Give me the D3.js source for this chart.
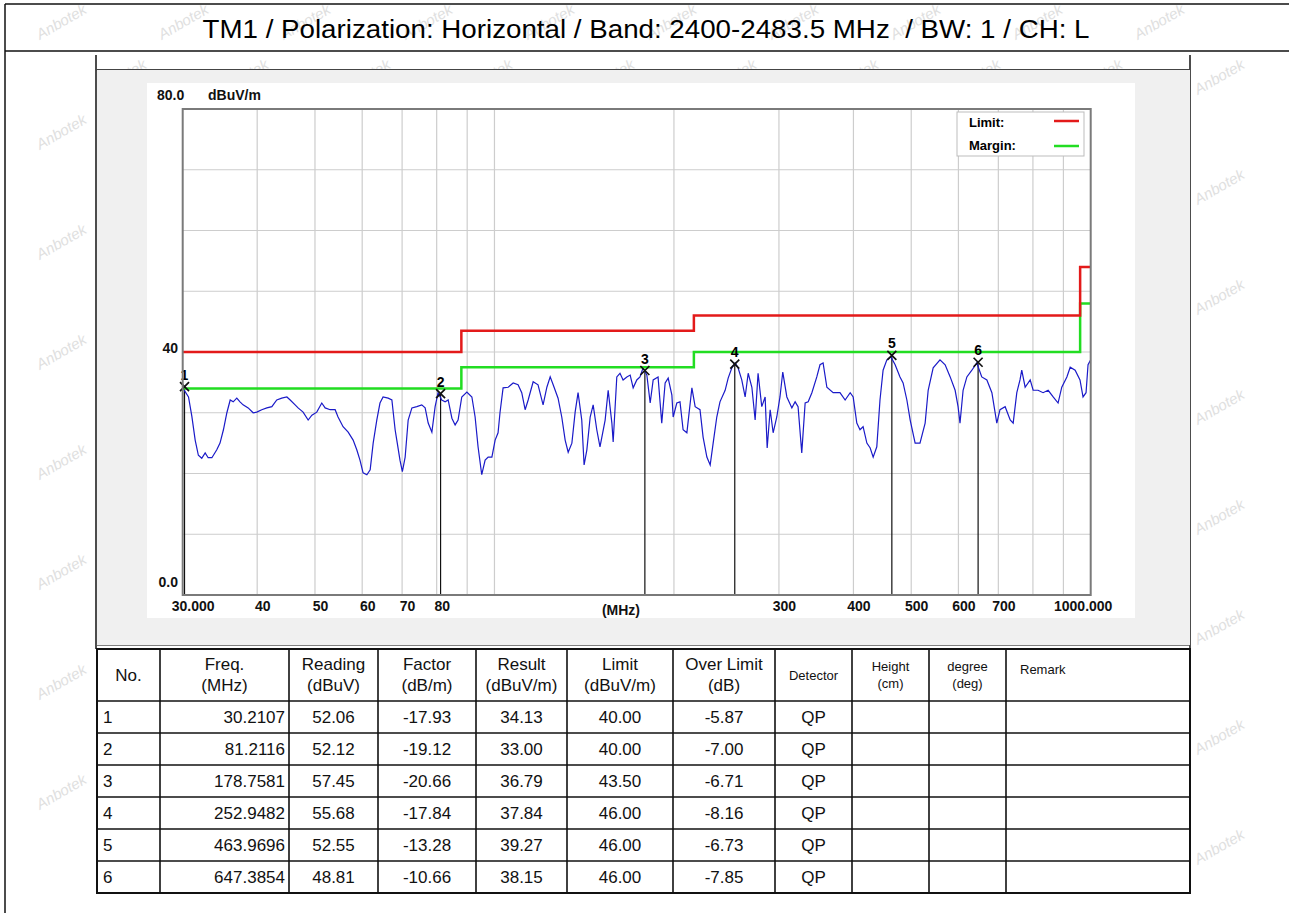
<!DOCTYPE html>
<html>
<head>
<meta charset="utf-8">
<script src="https://cdn.jsdelivr.net/npm/d3@7"></script>
<style>
  body { margin: 0; background: #fff; }
  svg { display: block; }
  text { font-family: "Liberation Sans", Arial, sans-serif; }
</style>
</head>
<body>
<svg id="chart" width="1289" height="913"></svg>
<script>
// ---- data ----
const title = "TM1 / Polarization: Horizontal / Band: 2400-2483.5 MHz  / BW: 1 / CH: L";

// measured trace (MHz, dBuV/m)
const traceFreq = [30.0,30.68,31.08,31.48,31.87,32.29,32.72,33.10,33.58,34.22,34.65,35.11,35.58,36.04,36.46,36.97,37.43,37.88,38.63,39.38,39.94,40.71,41.52,42.33,43.14,43.98,44.86,45.44,46.31,46.84,47.76,48.70,49.41,50.35,51.33,52.00,53.02,54.05,54.66,55.73,56.84,57.94,58.76,59.49,60.21,61.09,61.88,62.60,63.48,64.27,65.04,66.33,67.29,68.14,68.58,69.43,70.07,70.83,71.66,72.70,74.09,75.52,76.51,77.42,78.53,79.52,80.43,81.58,82.66,83.63,84.84,85.91,86.89,88.14,89.89,91.65,92.80,93.86,95.21,96.46,97.60,99.01,100.26,101.40,102.16,103.39,105.44,107.49,109.54,111.11,112.58,113.90,116.12,118.33,120.66,122.43,124.01,125.45,127.84,129.68,131.39,132.94,134.85,136.56,138.11,140.09,141.37,142.88,144.72,146.40,148.46,150.31,153.33,155.14,157.37,158.16,160.39,162.38,164.34,166.75,168.90,170.86,173.27,175.42,177.53,180.14,182.46,184.58,188.1,190.80,193.31,195.60,198.41,199.40,202.22,204.73,207.20,210.24,214.35,217.06,221.17,223.83,227.11,230.04,232.70,235.98,238.91,243.71,246.59,250.14,253.31,256.19,259.87,263.29,266.40,270.23,273.66,276.77,280.74,284.43,286.67,290.02,293.37,297.51,301.2,304.47,309.31,315.37,319.36,323.0,327.64,331.95,335.87,340.70,347.23,351.54,355.77,360.99,369.88,379.75,387.38,395.01,399.59,405.24,410.27,415.21,421.30,426.74,431.68,437.77,443.2,448.54,455.13,462.25,469.9,478.8,484.57,491.68,498.02,507.63,517.23,527.62,533.85,544.24,558.78,570.0,581.2,592.4,599.18,603.67,610.94,619.9,632.0,644.1,656.58,669.67,682.77,695.86,704.5,718.64,732.78,741.26,751.72,761.05,766.24,776.31,791.57,800.73,815.99,832.0,848.5,865.1,881.6,894.3,912.1,923.9,941.7,959.5,970.8,982.2,989.8,1000];
const traceLevel = [34.1,32.6,29.4,25.5,23.0,22.5,23.4,22.6,22.6,23.9,25.0,27.2,30.0,32.1,31.8,32.4,31.8,31.3,30.8,30.0,30.1,30.5,30.8,31.0,32.1,32.4,32.6,32.1,31.3,30.8,30.1,28.8,29.6,30.1,31.6,30.8,30.5,30.5,29.3,27.7,26.8,25.5,23.9,22.2,20.1,19.8,20.6,25.0,28.8,31.6,32.6,32.4,32.1,27.2,25.5,22.2,20.3,22.7,28.8,30.8,31.0,31.3,30.8,28.3,26.8,31.0,33.3,32.1,31.8,32.1,29.1,28.0,28.8,32.6,33.4,32.6,29.3,24.4,19.8,22.2,22.7,22.7,25.5,26.7,30.0,34.1,34.2,34.9,34.6,33.3,30.5,32.1,35.1,34.6,31.3,34.2,35.9,34.6,32.4,29.3,25.5,23.5,25.0,30.1,33.3,28.8,21.4,23.9,29.3,31.3,27.2,24.4,28.8,33.7,28.3,25.2,35.9,36.5,35.4,35.9,36.2,34.1,35.4,35.9,37.4,36.2,31.6,35.4,35.9,28.3,34.9,35.7,32.9,29.3,31.6,31.8,27.2,26.7,34.1,31.0,30.5,26.0,22.7,21.4,25.0,29.3,31.8,33.7,35.7,37.4,38.2,37.4,35.4,32.6,36.5,34.2,28.8,36.5,31.0,32.6,24.2,30.5,26.7,29.3,32.6,36.7,32.6,30.8,31.8,31.0,23.4,31.6,31.8,33.3,35.9,37.9,38.2,34.2,33.3,33.3,32.1,33.3,32.6,28.3,27.2,27.7,25.0,24.2,22.7,24.4,32.1,37.0,38.7,39.2,37.9,35.9,34.9,32.1,28.8,25.0,25.0,28.3,33.7,37.4,38.7,37.9,35.9,33.7,31.0,28.3,33.7,35.9,37.0,38.2,35.9,35.4,33.3,28.3,30.5,31.0,28.8,28.3,33.3,35.4,37.0,34.2,35.4,33.7,33.7,33.3,33.7,32.6,31.6,34.2,35.9,37.5,37.0,35.4,32.6,33.3,37.9,38.7];

// limit / margin steps (start frequency of each step, last entry closes the line)
const stepFreq = [30, 88, 216, 960, 1000];
const limitVal = [40, 43.5, 46, 54, 54];
const marginVal = [34, 37.5, 40, 48, 48];

// axis ticks
const gridFreq = [40, 50, 60, 70, 80, 90, 100, 200, 300, 400, 500, 600, 700, 800, 900];
const labelFreq = [30, 40, 50, 60, 70, 80, 300, 400, 500, 600, 700, 1000];
const labelText = ["30.000", "40", "50", "60", "70", "80", "300", "400", "500", "600", "700", "1000.000"];
const gridLevel = [10, 20, 30, 40, 50, 60, 70];

// marker table
const mkNo = [1, 2, 3, 4, 5, 6];
const mkFreq = ["30.2107", "81.2116", "178.7581", "252.9482", "463.9696", "647.3854"];
const mkReading = ["52.06", "52.12", "57.45", "55.68", "52.55", "48.81"];
const mkFactor = ["-17.93", "-19.12", "-20.66", "-17.84", "-13.28", "-10.66"];
const mkResult = ["34.13", "33.00", "36.79", "37.84", "39.27", "38.15"];
const mkLimit = ["40.00", "40.00", "43.50", "46.00", "46.00", "46.00"];
const mkOver = ["-5.87", "-7.00", "-6.71", "-8.16", "-6.73", "-7.85"];
const mkDet = ["QP", "QP", "QP", "QP", "QP", "QP"];

const headers = [["No."], ["Freq.", "(MHz)"], ["Reading", "(dBuV)"], ["Factor", "(dB/m)"], ["Result", "(dBuV/m)"],
  ["Limit", "(dBuV/m)"], ["Over Limit", "(dB)"], ["Detector"], ["Height", "(cm)"], ["degree", "(deg)"], ["Remark"]];

// ---- drawing ----
const svg = d3.select("#chart");

// faint watermark, kept fully inside the page
const wm = svg.append("g").attr("fill", "#e0e0e0").attr("font-size", 15).attr("font-style", "italic");
for (let r = 0; r < 17; r++) {
  for (let c = 0; c < 11; c++) {
    const wx = 40 + c * 122 + (r % 2) * 60, wy = 40 + r * 55;
    if (wx > 1220 || wy > 905) continue;
    wm.append("text").attr("transform", `translate(${wx},${wy}) rotate(-30)`).text("Anbotek");
  }
}

// frame
const frame = svg.append("g").attr("stroke", "#111").attr("fill", "none");
frame.append("line").attr("x1", 5).attr("x2", 1289).attr("y1", 4).attr("y2", 4).attr("stroke-width", 1.5);
frame.append("line").attr("x1", 5).attr("x2", 1289).attr("y1", 51).attr("y2", 51).attr("stroke-width", 1.5);
frame.append("line").attr("x1", 5).attr("x2", 5).attr("y1", 4).attr("y2", 913).attr("stroke-width", 1.5);

svg.append("text")
  .attr("x", 646).attr("y", 38)
  .attr("text-anchor", "middle")
  .attr("font-size", 26)
  .style("white-space", "pre")
  .attr("textLength", 887).attr("lengthAdjust", "spacingAndGlyphs")
  .text(title);

// grey instrument panel
svg.append("rect").attr("x", 97).attr("y", 70).attr("width", 1093).attr("height", 575).attr("fill", "#f0f0f0");
svg.append("rect").attr("x", 147).attr("y", 83).attr("width", 988).attr("height", 535).attr("fill", "#fff");
frame.append("line").attr("x1", 96).attr("x2", 96).attr("y1", 55).attr("y2", 649).attr("stroke-width", 1.5);
frame.append("line").attr("x1", 1190).attr("x2", 1190).attr("y1", 55).attr("y2", 649).attr("stroke-width", 1.5);
frame.append("line").attr("x1", 96).attr("x2", 1190).attr("y1", 70).attr("y2", 70).attr("stroke", "#444").attr("stroke-width", 2);
frame.append("line").attr("x1", 96).attr("x2", 1190).attr("y1", 645).attr("y2", 645).attr("stroke", "#555").attr("stroke-width", 1.5);

// scales
const x = d3.scaleLog().domain([30, 1000]).range([182.7, 1090.7]);
const y = d3.scaleLinear().domain([0, 80]).range([595, 109]);

const plot = svg.append("g");
plot.append("rect").attr("x", x(30)).attr("y", y(80)).attr("width", x(1000) - x(30)).attr("height", y(0) - y(80)).attr("fill", "#fff");

// grid
plot.selectAll(".vg").data(gridFreq).enter().append("line")
  .attr("x1", d => x(d)).attr("x2", d => x(d)).attr("y1", y(80)).attr("y2", y(0))
  .attr("stroke", "#cdcdcd").attr("stroke-width", 1.2);
plot.selectAll(".hg").data(gridLevel).enter().append("line")
  .attr("x1", x(30)).attr("x2", x(1000)).attr("y1", d => y(d)).attr("y2", d => y(d))
  .attr("stroke", "#cdcdcd").attr("stroke-width", 1.2);

// legend box
const lg = plot.append("g");
lg.append("rect").attr("x", 957).attr("y", 112).attr("width", 127).attr("height", 44)
  .attr("fill", "#fff").attr("stroke", "#bdbdbd");
lg.append("text").attr("x", 969).attr("y", 127).attr("font-size", 13).attr("font-weight", "bold").text("Limit:");
lg.append("text").attr("x", 969).attr("y", 150).attr("font-size", 13).attr("font-weight", "bold").text("Margin:");
lg.append("line").attr("x1", 1054).attr("x2", 1079).attr("y1", 121).attr("y2", 121).attr("stroke", "#e31a1a").attr("stroke-width", 2.5);
lg.append("line").attr("x1", 1054).attr("x2", 1079).attr("y1", 146).attr("y2", 146).attr("stroke", "#22dd22").attr("stroke-width", 2.5);

// marker vertical lines (behind trace)
const mk = mkNo.map((n, i) => ({ n, f: +mkFreq[i], v: +mkResult[i] }));
plot.selectAll(".ml").data(mk).enter().append("line")
  .attr("x1", d => x(d.f)).attr("x2", d => x(d.f)).attr("y1", d => y(d.v)).attr("y2", y(0))
  .attr("stroke", "#111").attr("stroke-width", 1.2);

// trace
const trace = traceFreq.map((f, i) => [f, traceLevel[i]]);
plot.append("path").datum(trace)
  .attr("d", d3.line().x(d => x(d[0])).y(d => y(d[1])))
  .attr("fill", "none").attr("stroke", "#1a1ac8").attr("stroke-width", 1.2);

// limit & margin
const stepLine = vals => d3.line().curve(d3.curveStepAfter).x(d => x(d)).y((d, i) => y(vals[i]));
plot.append("path").datum(stepFreq).attr("d", stepLine(marginVal))
  .attr("fill", "none").attr("stroke", "#22dd22").attr("stroke-width", 2.5);
plot.append("path").datum(stepFreq).attr("d", stepLine(limitVal))
  .attr("fill", "none").attr("stroke", "#e31a1a").attr("stroke-width", 2.5);

// markers
const cross = plot.selectAll(".mk").data(mk).enter().append("g")
  .attr("transform", d => `translate(${x(d.f)},${y(d.v) - 1})`);
cross.append("path").attr("d", "M-4.5,-4.5L4.5,4.5M-4.5,4.5L4.5,-4.5").attr("stroke", "#111").attr("stroke-width", 1.7);
cross.append("text").attr("y", -7).attr("text-anchor", "middle").attr("font-size", 14).attr("font-weight", "bold").text(d => d.n);

// plot border
plot.append("rect").attr("x", x(30)).attr("y", y(80)).attr("width", x(1000) - x(30)).attr("height", y(0) - y(80))
  .attr("fill", "none").attr("stroke", "#7a7a7a").attr("stroke-width", 2);

// axes labels
const ax = svg.append("g").attr("font-size", 14).attr("font-weight", "bold").attr("fill", "#111");
const xAxis = svg.append("g").attr("transform", `translate(0,${y(0)})`)
  .call(d3.axisBottom(x).tickValues(labelFreq).tickSize(0).tickPadding(6).tickFormat((d, i) => labelText[i]));
xAxis.select(".domain").remove();
xAxis.selectAll("text").attr("font-size", 14).attr("font-weight", "bold").attr("fill", "#111")
  .attr("font-family", '"Liberation Sans", Arial, sans-serif')
  .attr("dx", (d, i) => i === 0 ? 10 : (i === labelFreq.length - 1 ? -8 : 5));
ax.append("text").attr("x", 621).attr("y", 615).attr("text-anchor", "middle").text("(MHz)");
ax.append("text").attr("x", 157).attr("y", 100).text("80.0");
ax.append("text").attr("x", 208).attr("y", 100).text("dBuV/m");
ax.append("text").attr("x", 178).attr("y", y(40) + 1).attr("text-anchor", "end").text("40");
ax.append("text").attr("x", 178).attr("y", y(0) - 8).attr("text-anchor", "end").text("0.0");

// ---- table ----
const colX = [97, 160, 289, 378, 476, 567, 673, 775, 852, 929, 1006, 1190];
const headTop = 649, headH = 52, rowH = 32;
const tbl = svg.append("g");
const tBottom = headTop + headH + rowH * mkNo.length;
tbl.append("rect").attr("x", colX[0]).attr("y", headTop).attr("width", colX[11] - colX[0]).attr("height", tBottom - headTop)
  .attr("fill", "#fff").attr("stroke", "#111").attr("stroke-width", 2);
tbl.selectAll(".vc").data(colX.slice(1, -1)).enter().append("line")
  .attr("x1", d => d).attr("x2", d => d).attr("y1", headTop).attr("y2", tBottom)
  .attr("stroke", "#111").attr("stroke-width", 1.6);
tbl.selectAll(".hr").data(d3.range(mkNo.length)).enter().append("line")
  .attr("x1", colX[0]).attr("x2", colX[11])
  .attr("y1", i => headTop + headH + i * rowH).attr("y2", i => headTop + headH + i * rowH)
  .attr("stroke", "#111").attr("stroke-width", 1.6);

headers.forEach((lines, c) => {
  const small = c >= 7;
  const fs = small ? 13 : 17;
  const cx = c === 10 ? colX[c] + 14 : (colX[c] + colX[c + 1]) / 2;
  const t = tbl.append("text").attr("font-size", fs).attr("fill", "#111")
    .attr("text-anchor", c === 10 ? "start" : "middle");
  const lh = small ? 17 : 21;
  const y0 = headTop + headH / 2 - (lines.length - 1) * lh / 2 + fs * 0.35 - (c === 10 ? 6 : 0);
  lines.forEach((s, k) => t.append("tspan").attr("x", cx).attr("y", y0 + k * lh).text(s));
});

const cols = [mkNo, mkFreq, mkReading, mkFactor, mkResult, mkLimit, mkOver, mkDet];
mkNo.forEach((n, r) => {
  const cy = headTop + headH + r * rowH + rowH / 2 + 6;
  cols.forEach((arr, c) => {
    let tx, anchor;
    if (c === 0) { tx = colX[0] + 6; anchor = "start"; }
    else if (c === 1) { tx = colX[2] - 4; anchor = "end"; }
    else { tx = (colX[c] + colX[c + 1]) / 2; anchor = "middle"; }
    tbl.append("text").attr("x", tx).attr("y", cy).attr("font-size", 17).attr("text-anchor", anchor)
      .attr("fill", "#111").text(arr[r]);
  });
});
</script>
</body>
</html>
